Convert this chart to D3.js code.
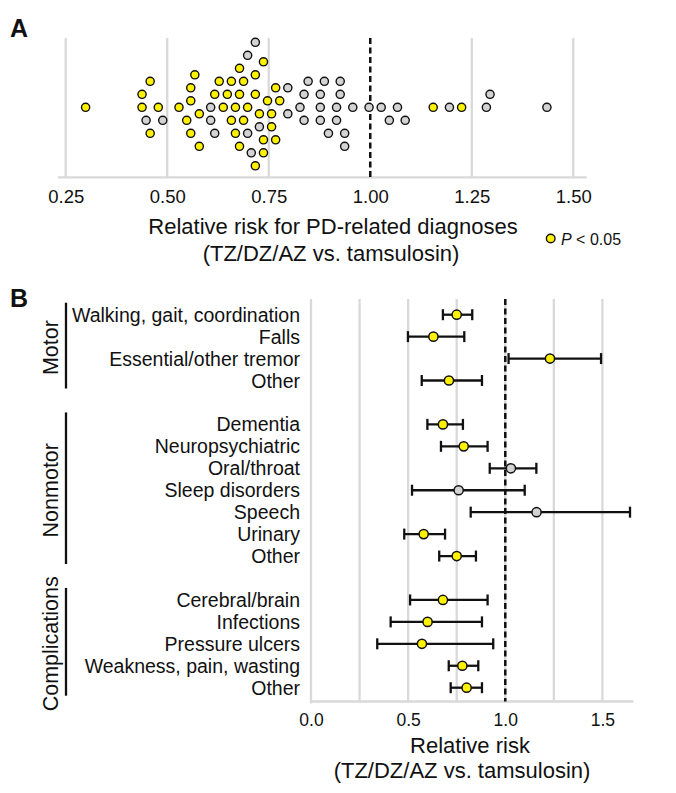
<!DOCTYPE html>
<html><head><meta charset="utf-8">
<script src="https://cdn.jsdelivr.net/npm/d3@7"></script>
<style>
body{margin:0;background:#fff}
svg{display:block}
text{font-family:Arial,"Liberation Sans",sans-serif;fill:#111}
</style>
</head><body>
<svg id="c" width="676" height="793"></svg>
<script>
// ---------- Panel A data (relative risk for each PD-related diagnosis) ----------
const sigRisks = [0.299,0.458,0.438,0.478,0.438,0.458,0.529,0.558,0.579,0.558,0.568,0.548,0.579,0.558,
  0.628,0.617,0.638,0.678,0.678,0.668,0.698,0.658,0.688,0.648,0.688,0.658,0.668,0.678,0.717,0.717,
  0.747,0.737,0.727,0.737,0.737,0.717,0.757,0.757,0.777,0.767,0.767,1.155,1.225];
const nsRisks = [0.448,0.489,0.607,0.607,0.617,0.698,0.698,0.707,0.727,0.717,0.797,0.797,0.847,0.837,
  0.827,0.837,0.897,0.877,0.877,0.877,0.887,0.937,0.926,0.917,0.917,0.926,0.937,0.957,0.997,1.027,
  1.047,1.067,1.086,1.195,1.286,1.295,1.435];
const ticksA = [0.25,0.5,0.75,1.0,1.25,1.5];

// ---------- Panel B data ----------
const groups = ["Motor","Nonmotor","Complications"];
const outcomes = ["Walking, gait, coordination","Falls","Essential/other tremor","Other",
  "Dementia","Neuropsychiatric","Oral/throat","Sleep disorders","Speech","Urinary","Other",
  "Cerebral/brain","Infections","Pressure ulcers","Weakness, pain, wasting","Other"];
const outcomeGroup = [0,0,0,0, 1,1,1,1,1,1,1, 2,2,2,2,2];
const rr  = [0.750,0.630,1.230,0.710, 0.679,0.786,1.029,0.760,1.161,0.580,0.750, 0.679,0.600,0.571,0.779,0.801];
const lo  = [0.679,0.499,1.017,0.570, 0.599,0.669,0.920,0.520,0.822,0.480,0.660, 0.510,0.410,0.341,0.709,0.719];
const hi  = [0.830,0.789,1.493,0.880, 0.782,0.909,1.160,1.100,1.642,0.690,0.849, 0.909,0.880,0.938,0.861,0.880];
const sigB = [1,1,1,1, 1,1,0,0,0,1,1, 1,1,1,1,1];
const ticksB = [0,0.5,1.0,1.5];
const gridB = [0.25,0.5,0.75,1.0,1.25,1.5];

const YELLOW = "#fff200", GRAY = "#d3d3d3", GRID = "#d9d9d9";
const svg = d3.select("#c");

// ================= Panel A =================
const xA = d3.scaleLinear().domain([0.25,1.5]).range([65.7,573.3]);
const topA = 38, baseA = 177.3, midA = 107.3;
const gA = svg.append("g");

gA.selectAll("line.grid").data(ticksA.filter(t=>t!==1)).join("line")
  .attr("x1",d=>xA(d)).attr("x2",d=>xA(d)).attr("y1",topA).attr("y2",baseA)
  .attr("stroke",GRID).attr("stroke-width",2.3);
gA.append("line").attr("x1",xA(0.231)).attr("x2",xA(1.533)).attr("y1",baseA).attr("y2",baseA)
  .attr("stroke",GRID).attr("stroke-width",2.3);

const axA = d3.axisBottom(xA).tickValues(ticksA).tickFormat(d3.format(".2f")).tickSize(0).tickPadding(0);
const axAg = gA.append("g").attr("transform",`translate(0,${baseA})`).call(axA);
axAg.select(".domain").remove();
axAg.selectAll("text").attr("dy",null).attr("y",25.4).style("font-size","18.5px")
  .style("font-family","Arial,'Liberation Sans',sans-serif").attr("fill","#111");

gA.append("line").attr("x1",xA(1)).attr("x2",xA(1)).attr("y1",topA).attr("y2",baseA)
  .attr("stroke","#111").attr("stroke-width",2.5).attr("stroke-dasharray","6,3.5");

// beeswarm layout
const pts = sigRisks.map(v=>({v,sig:true})).concat(nsRisks.map(v=>({v,sig:false})));
(function swarm(points, pitch, D){
  const sorted = points.slice().sort((a,b)=>a.v-b.v);
  const placed = [];
  sorted.forEach((p,n)=>{
    p.x = xA(p.v);
    const s = (n%2===0)?-1:1;
    for (let k=0;k<60;k++){
      const off = (k===0?0:((k%2===1)?s:-s)*Math.ceil(k/2))*pitch;
      if (placed.every(q=>(q.x-p.x)**2+(q.off-off)**2 >= D*D)){p.off=off;break;}
    }
    placed.push(p);
  });
})(pts, 6.5, 12);

gA.selectAll("circle.pt").data(pts).join("circle")
  .attr("cx",d=>d.x).attr("cy",d=>midA+d.off).attr("r",4.1)
  .attr("fill",d=>d.sig?YELLOW:GRAY).attr("stroke","#111").attr("stroke-width",1.4);

gA.append("text").attr("x",333).attr("y",233.5).attr("text-anchor","middle").style("font-size","22px")
  .text("Relative risk for PD-related diagnoses");
gA.append("text").attr("x",331).attr("y",261).attr("text-anchor","middle").style("font-size","22px")
  .text("(TZ/DZ/AZ vs. tamsulosin)");
gA.append("circle").attr("cx",550.7).attr("cy",238.5).attr("r",4.3)
  .attr("fill",YELLOW).attr("stroke","#111").attr("stroke-width",1.4);
const leg = gA.append("text").attr("x",561).attr("y",244.5).style("font-size","16px");
leg.append("tspan").style("font-style","italic").text("P");
leg.append("tspan").text(" < 0.05");

svg.append("text").attr("x",10).attr("y",37).style("font-size","25px").style("font-weight","bold").text("A");
svg.append("text").attr("x",10).attr("y",307).style("font-size","25px").style("font-weight","bold").text("B");

// ================= Panel B =================
const keys = [];
groups.forEach((g,gi)=>{
  if (gi>0) keys.push("gap"+gi);
  outcomes.forEach((o,i)=>{ if (outcomeGroup[i]===gi) keys.push(i); });
});
const yB = d3.scalePoint().domain(keys).range([314.7,687.7]);
const xB = d3.scaleLinear().domain([0,1.66]).range([311,633.5]);
const topB = 299, baseB = 701.5;
const gB = svg.append("g");

gB.selectAll("line.grid").data(gridB).join("line")
  .attr("x1",d=>xB(d)).attr("x2",d=>xB(d)).attr("y1",topB).attr("y2",baseB)
  .attr("stroke",GRID).attr("stroke-width",2.3);
gB.append("line").attr("x1",xB(0)).attr("x2",xB(0)).attr("y1",topB).attr("y2",baseB+2)
  .attr("stroke",GRID).attr("stroke-width",2.3);
gB.append("line").attr("x1",xB(0)).attr("x2",xB(1.66)).attr("y1",baseB).attr("y2",baseB)
  .attr("stroke",GRID).attr("stroke-width",2.3);

const axB = d3.axisBottom(xB).tickValues(ticksB).tickFormat(d3.format(".1f")).tickSize(0).tickPadding(0);
const axBg = gB.append("g").attr("transform",`translate(0,${baseB})`).call(axB);
axBg.select(".domain").remove();
axBg.selectAll("text").attr("dy",null).attr("y",24.3).style("font-size","17.5px")
  .style("font-family","Arial,'Liberation Sans',sans-serif").attr("fill","#111");

gB.append("line").attr("x1",xB(1)).attr("x2",xB(1)).attr("y1",topB).attr("y2",baseB)
  .attr("stroke","#111").attr("stroke-width",2.5).attr("stroke-dasharray","6,3.5");

const idx = d3.range(outcomes.length);
gB.selectAll("line.ci").data(idx).join("line")
  .attr("x1",i=>xB(lo[i])).attr("x2",i=>xB(hi[i])).attr("y1",i=>yB(i)).attr("y2",i=>yB(i))
  .attr("stroke","#111").attr("stroke-width",2.3);
gB.selectAll("line.capl").data(idx).join("line")
  .attr("x1",i=>xB(lo[i])).attr("x2",i=>xB(lo[i])).attr("y1",i=>yB(i)-5.5).attr("y2",i=>yB(i)+5.5)
  .attr("stroke","#111").attr("stroke-width",2.3);
gB.selectAll("line.caph").data(idx).join("line")
  .attr("x1",i=>xB(hi[i])).attr("x2",i=>xB(hi[i])).attr("y1",i=>yB(i)-5.5).attr("y2",i=>yB(i)+5.5)
  .attr("stroke","#111").attr("stroke-width",2.3);
gB.selectAll("circle.pt").data(idx).join("circle")
  .attr("cx",i=>xB(rr[i])).attr("cy",i=>yB(i)).attr("r",4.6)
  .attr("fill",i=>sigB[i]?YELLOW:GRAY).attr("stroke","#111").attr("stroke-width",1.5);

gB.selectAll("text.lab").data(idx).join("text")
  .attr("x",300).attr("y",i=>yB(i)).attr("dy","0.36em").attr("text-anchor","end")
  .style("font-size","19.5px").text(i=>outcomes[i]);

groups.forEach((g,gi)=>{
  const rows = idx.filter(i=>outcomeGroup[i]===gi);
  const y0 = yB(rows[0]) - 12, y1 = yB(rows[rows.length-1]) + 8;
  gB.append("line").attr("x1",66).attr("x2",66).attr("y1",y0).attr("y2",y1)
    .attr("stroke","#111").attr("stroke-width",2.3);
  const cy = (yB(rows[0]) + yB(rows[rows.length-1]))/2;
  gB.append("text").attr("transform",`translate(58,${cy}) rotate(-90)`).attr("text-anchor","middle")
    .style("font-size","21.5px").text(g);
});

gB.append("text").attr("x",470).attr("y",753).attr("text-anchor","middle").style("font-size","22px").text("Relative risk");
gB.append("text").attr("x",462).attr("y",777.5).attr("text-anchor","middle").style("font-size","22px").text("(TZ/DZ/AZ vs. tamsulosin)");
</script>
</body></html>
